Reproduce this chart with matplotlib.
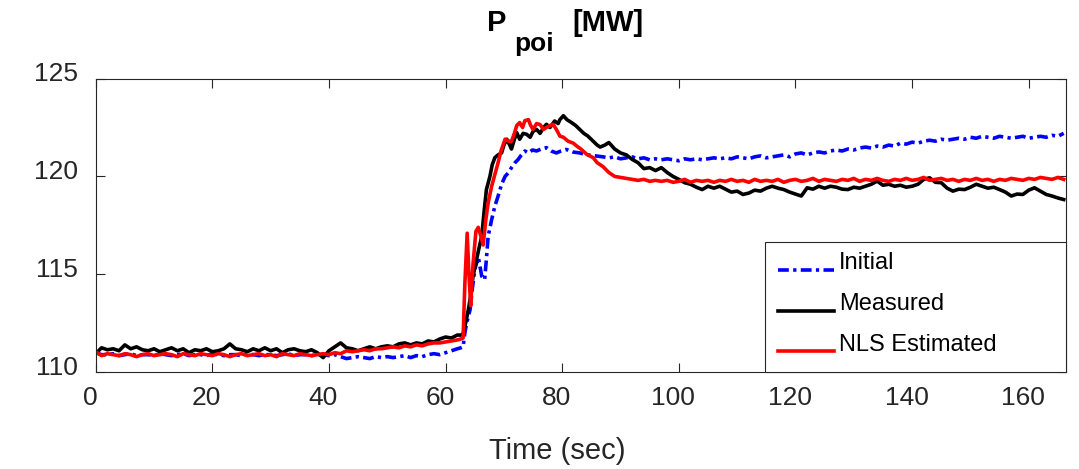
import numpy as np
import matplotlib
matplotlib.use("Agg")
import matplotlib.pyplot as plt
from matplotlib.transforms import ScaledTranslation

plt.rcParams['font.family'] = ['Liberation Sans', 'DejaVu Sans']

# shared sampling grids (sec) before and after the step
t_pre = np.arange(0, 63)
t_post = np.arange(88, 167)

# --- Measured (black)
black_pre = [
    110.95, 111.25, 111.15, 111.2, 111.1, 111.4, 111.2, 111.3, 111.15, 111.1,
    111.2, 111.05, 111.15, 111.25, 111.1, 111.2, 111.0, 111.15, 111.1, 111.2,
    111.05, 111.1, 111.2, 111.45, 111.2, 111.15, 111.05, 111.2, 111.1, 111.25,
    111.1, 111.2, 111.0, 111.15, 111.2, 111.1, 111.05, 111.15, 111.0, 110.75,
    111.1, 111.3, 111.5, 111.25, 111.2, 111.1, 111.2, 111.3, 111.2, 111.3,
    111.35, 111.3, 111.45, 111.5, 111.4, 111.5, 111.45, 111.6, 111.55, 111.7,
    111.8, 111.75, 111.9]
black_tr_t = [62.6, 63.0, 63.5, 63.9, 64.3, 64.7, 65.2, 65.7, 66.2, 66.6, 67.0,
              67.6, 68.0, 68.45, 69.0, 69.6, 70.0, 70.5, 71.0, 71.3, 71.8, 72.2,
              72.7, 73.3, 73.9, 74.5, 75.0, 75.6, 76.2, 76.8, 77.3, 77.9, 78.7,
              79.3, 79.6, 80.2, 80.8, 81.6, 82.3, 83.0, 83.7, 84.4, 85.3, 86.0,
              86.5, 87.3]
black_tr = [111.9, 111.95, 112.6, 113.2, 113.9, 114.9, 115.6, 116.3, 116.95,
            118.2, 119.33, 120.0, 120.6, 120.96, 121.1, 121.2, 121.6, 121.9,
            121.6, 121.4, 121.9, 122.24, 121.9, 122.2, 122.15, 122.0, 122.3,
            122.4, 122.2, 122.5, 122.66, 122.5, 122.83, 122.7, 122.9, 123.1,
            122.9, 122.75, 122.6, 122.4, 122.2, 122.06, 121.8, 121.6, 121.5,
            121.6]
black_post = [
    121.73, 121.4, 121.2, 121.1, 120.87, 120.7, 120.4, 120.45, 120.3, 120.45,
    120.2, 120.0, 119.85, 119.68, 119.6, 119.45, 119.33, 119.5, 119.4, 119.5,
    119.35, 119.2, 119.25, 119.08, 119.15, 119.3, 119.25, 119.4, 119.5, 119.4,
    119.33, 119.2, 119.1, 119.0, 119.42, 119.35, 119.5, 119.4, 119.5, 119.45,
    119.35, 119.33, 119.45, 119.4, 119.5, 119.6, 119.76, 119.55, 119.6, 119.5,
    119.55, 119.45, 119.5, 119.6, 119.85, 119.93, 119.7, 119.68, 119.4, 119.25,
    119.35, 119.33, 119.45, 119.6, 119.5, 119.4, 119.45, 119.33, 119.2, 119.0,
    119.1, 119.08, 119.3, 119.42, 119.25, 119.08, 119.0, 118.9, 118.82]

# --- NLS Estimated (red)
red_pre = [
    111.05, 110.85, 110.95, 110.9, 110.85, 110.95, 110.9, 110.8, 110.9, 110.95,
    110.85, 110.9, 110.95, 110.9, 110.8, 110.95, 110.9, 110.85, 110.95, 110.9,
    110.85, 110.95, 110.9, 110.8, 110.9, 110.95, 110.85, 110.9, 110.95, 110.85,
    110.9, 110.8, 110.95, 110.9, 110.85, 110.95, 110.9, 110.85, 110.9, 110.95,
    110.9, 111.0, 110.95, 111.1, 111.05, 111.1, 111.15, 111.1, 111.2, 111.2,
    111.25, 111.3, 111.25, 111.35, 111.3, 111.4, 111.35, 111.45, 111.5, 111.5,
    111.55, 111.6, 111.65]
red_tr_t = [62.6, 63.0, 63.3, 63.7, 64.0, 64.3, 64.7, 65.2, 65.6, 66.0, 66.45,
            66.9, 67.3, 67.9, 68.45, 69.0, 69.5, 70.2, 70.8, 71.3, 71.8, 72.2,
            72.7, 73.2, 73.6, 74.2, 74.6, 75.0, 75.6, 76.2, 76.8, 77.3, 77.9,
            78.45, 79.0, 79.6, 80.2, 81.0, 81.9, 82.5, 83.2, 84.2, 85.3, 86.0,
            87.0]
red_tr = [111.7, 111.75, 114.5, 117.1, 115.0, 113.4, 115.5, 117.2, 117.4,
          117.0, 116.5, 117.8, 118.65, 119.5, 120.1, 120.7, 121.3, 121.9, 121.8,
          121.8, 122.2, 122.6, 122.75, 122.5, 122.85, 122.9, 122.6, 122.4,
          122.7, 122.65, 122.4, 122.5, 122.6, 122.66, 122.4, 122.06, 122.0,
          121.8, 121.7, 121.55, 121.4, 121.13, 120.96, 120.7, 120.5]
red_post = [
    120.2, 120.0, 119.95, 119.9, 119.85, 119.8, 119.85, 119.75, 119.8, 119.75,
    119.8, 119.7, 119.75, 119.85, 119.7, 119.8, 119.75, 119.8, 119.7, 119.8,
    119.75, 119.85, 119.75, 119.8, 119.7, 119.85, 119.75, 119.8, 119.75, 119.85,
    119.7, 119.8, 119.85, 119.75, 119.8, 119.9, 119.75, 119.85, 119.8, 119.75,
    119.85, 119.8, 119.9, 119.75, 119.85, 119.8, 119.9, 119.8, 119.75, 119.85,
    119.8, 119.9, 119.8, 119.85, 119.95, 119.8, 119.85, 119.9, 119.8, 119.85,
    119.75, 119.85, 119.8, 119.9, 119.8, 119.85, 119.75, 119.85, 119.8, 119.9,
    119.85, 119.8, 119.9, 119.85, 119.95, 119.9, 119.85, 119.95, 119.85]

# --- Initial (blue)
blue_pre = [
    111.0, 110.9, 110.9, 110.95, 110.85, 110.9, 110.95, 110.85, 110.9, 110.9,
    110.85, 110.95, 110.9, 110.85, 110.9, 110.95, 110.85, 110.9, 110.9, 110.85,
    110.95, 110.9, 110.85, 110.9, 110.9, 110.85, 110.95, 110.9, 110.85, 110.9,
    110.9, 110.85, 110.9, 110.95, 110.85, 110.9, 110.9, 110.85, 110.9, 110.9,
    110.85, 110.9, 110.8, 110.7, 110.75, 110.8, 110.75, 110.7, 110.8, 110.75,
    110.8, 110.75, 110.8, 110.85, 110.75, 110.85, 110.8, 110.9, 110.95, 110.9,
    111.0, 111.1, 111.2]
blue_tr_t = [62.6, 63.0, 63.3, 63.6, 64.2, 64.6, 65.0, 65.6, 66.2, 66.7, 67.0,
             67.3, 67.9, 68.45, 69.0, 69.6, 70.2, 70.8, 71.3, 71.9, 72.45, 73.0,
             73.6, 74.2, 74.9, 75.6, 76.4, 77.3, 78.1, 79.0, 79.8, 80.7, 81.8,
             83.0, 84.4, 85.9, 87.0]
blue_tr = [111.25, 111.3, 112.0, 112.5, 113.2, 114.3, 115.24, 115.9, 114.9,
           114.73, 115.8, 116.94, 117.8, 118.48, 118.99, 119.6, 120.0, 120.2,
           120.45, 120.7, 120.87, 121.1, 121.3, 121.2, 121.35, 121.3, 121.4,
           121.47, 121.3, 121.2, 121.3, 121.38, 121.25, 121.2, 121.1, 121.04,
           121.0]
blue_post = [
    120.95, 121.0, 120.9, 120.95, 121.0, 120.9, 120.95, 120.85, 120.9, 120.85,
    120.9, 120.85, 120.8, 120.9, 120.85, 120.9, 120.85, 120.9, 120.95, 120.9,
    120.95, 120.9, 121.0, 120.95, 120.9, 121.0, 121.05, 120.95, 121.0, 121.05,
    121.1, 121.0, 121.15, 121.2, 121.1, 121.2, 121.25, 121.2, 121.3, 121.35,
    121.3, 121.4, 121.35, 121.45, 121.5, 121.45, 121.55, 121.5, 121.6, 121.55,
    121.7, 121.65, 121.75, 121.7, 121.8, 121.85, 121.8, 121.9, 121.85, 121.9,
    121.95, 121.9, 122.0, 121.95, 122.05, 122.0, 121.95, 122.05, 122.0, 121.95,
    122.0, 122.05, 121.95, 122.0, 122.05, 122.0, 122.1, 122.05, 122.2]


def join(tr_t, pre, tr, post):
    t = np.concatenate([t_pre, tr_t, t_post])
    v = np.concatenate([pre, tr, post])
    return t, v


fig = plt.figure(figsize=(10.79, 4.69), dpi=100)
ax = fig.add_axes([0.0887, 0.2062, 0.8993, 0.6264])

tb, vb = join(blue_tr_t, blue_pre, blue_tr, blue_post)
tk, vk = join(black_tr_t, black_pre, black_tr, black_post)
tr, vr = join(red_tr_t, red_pre, red_tr, red_post)

ax.plot(tb, vb, color='#0000ff', lw=2.6, linestyle=(0, (3.0, 1.2, 0.9, 1.2)),
        label='Initial')
ax.plot(tk, vk, color='black', lw=2.6, label='Measured')
ax.plot(tr, vr, color='#ff0000', lw=2.6, label='NLS Estimated')

ax.set_xlim(0, 166.4)
ax.set_ylim(110, 125)
ax.set_xticks(np.arange(0, 161, 20))
ax.set_yticks([110, 115, 120, 125])

ax.tick_params(direction='in', length=6.5, width=0.8, top=True, right=True,
               labelsize=19, labelcolor='#262626', color='#262626')
ax.tick_params(axis='x', pad=10)
ax.tick_params(axis='y', pad=13)
for s in ax.spines.values():
    s.set_color('#262626')
    s.set_linewidth(0.8)

# MATLAB export nudges tick text a few pixels up / left
for lab in ax.get_yticklabels():
    lab.set_transform(lab.get_transform() +
                      ScaledTranslation(0, 5 / 72, fig.dpi_scale_trans))
for lab in ax.get_xticklabels():
    lab.set_transform(lab.get_transform() +
                      ScaledTranslation(-4 / 72, 0, fig.dpi_scale_trans))

ax.set_xlabel('Time (sec)', fontsize=21, color='#262626')
ax.xaxis.set_label_coords(0.476, -0.22)

# title with a MATLAB-style dropped subscript
fig.text(487 / 1079, 1 - 23 / 469, 'P', fontsize=21, fontweight='bold',
         va='center', ha='left')
fig.text(514 / 1079, 1 - 44 / 469, 'poi', fontsize=19, fontweight='bold',
         va='center', ha='left')
fig.text(572 / 1079, 1 - 23 / 469, '[MW]', fontsize=21, fontweight='bold',
         va='center', ha='left')

x0 = (765 - 95.7) / 970.3
leg = ax.legend(loc='lower left', bbox_to_anchor=(x0, 0, 1 - x0, 0.44),
                mode='expand', borderaxespad=0,
                fontsize=17, handlelength=2.35, labelspacing=0.8,
                fancybox=False, framealpha=1, borderpad=0.555,
                handletextpad=0.22)
leg.get_frame().set_edgecolor('#262626')
leg.get_frame().set_linewidth(0.8)
for txt in leg.get_texts():
    txt.set_y(3.5)
for h in leg.legend_handles:
    h.set_ydata(np.asarray(h.get_ydata()) - 4)

fig.savefig('out.png', dpi=100)
